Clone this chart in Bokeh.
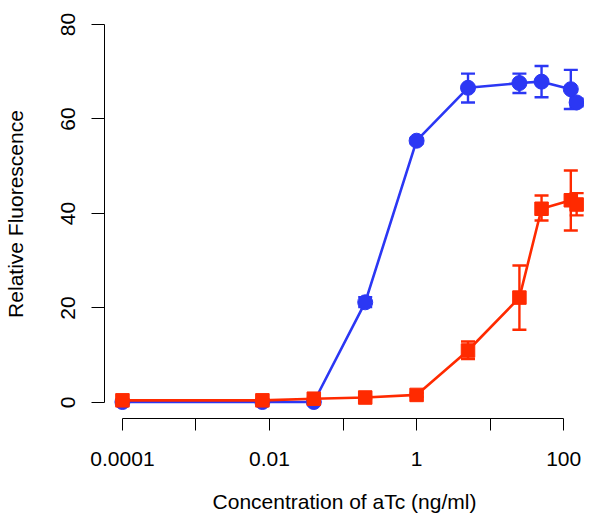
from bokeh.plotting import figure
from bokeh.models import Range1d, FixedTicker, ColumnDataSource
from bokeh.embed import file_html
from bokeh.resources import INLINE

# Data
conc = [0.0001, 0.008, 0.04, 0.2, 1, 5, 25, 50, 125, 150]

blue_y = [0.1, 0.1, 0.1, 21.2, 55.4, 66.6, 67.6, 67.9, 66.3, 63.5]
blue_hi = [0.3, 0.3, 0.3, 22.3, 56.0, 69.6, 69.6, 71.2, 70.4, 64.3]
blue_lo = [0.0, 0.0, 0.0, 20.2, 54.8, 63.5, 65.5, 64.6, 62.1, 62.7]

red_y = [0.45, 0.45, 0.8, 1.05, 1.6, 11.0, 22.2, 41.0, 42.8, 41.9]
red_hi = [0.6, 0.6, 1.0, 1.3, 2.0, 12.9, 29.0, 43.8, 49.1, 44.3]
red_lo = [0.3, 0.3, 0.6, 0.8, 1.2, 9.2, 15.4, 38.5, 36.4, 39.6]

x_ticks = [0.0001, 0.001, 0.01, 0.1, 1, 10, 100]
x_labels = {0.0001: "0.0001", 0.001: "", 0.01: "0.01", 0.1: "", 1: "1", 10: "", 100: "100"}
y_ticks = [0, 20, 40, 60, 80]

BLUE = "#2B37F4"
RED = "#FF2A00"
FONT = "Liberation Sans"

p = figure(width=584, height=515, x_axis_type="log",
           x_range=Range1d(10 ** -4.244, 10 ** 2.283),
           y_range=Range1d(-3.39, 83.17),
           output_backend="svg", toolbar_location=None,
           min_border_left=103, min_border_right=0,
           min_border_top=9, min_border_bottom=97)
p.outline_line_color = None
p.grid.grid_line_color = None
p.background_fill_color = "white"

# x axis
xa = p.xaxis[0]
xa.ticker = FixedTicker(ticks=x_ticks)
xa.major_label_overrides = x_labels
xa.bounds = (0.0001, 100)
xa.minor_tick_line_color = None
xa.major_tick_in = 0
xa.major_tick_out = 12
xa.major_tick_line_color = "black"
xa.axis_line_color = "black"
xa.major_label_text_font = FONT
xa.major_label_text_font_size = "21px"
xa.major_label_text_color = "black"
xa.major_label_standoff = 21
xa.axis_label = "Concentration of aTc (ng/ml)"
xa.axis_label_text_font = FONT
xa.axis_label_text_font_size = "21px"
xa.axis_label_text_font_style = "normal"
xa.axis_label_text_color = "black"
xa.axis_label_standoff = 21

# y axis
ya = p.yaxis[0]
ya.ticker = FixedTicker(ticks=y_ticks)
ya.bounds = (0, 80)
ya.minor_tick_line_color = None
ya.major_tick_in = 0
ya.major_tick_out = 13
ya.major_tick_line_color = "black"
ya.axis_line_color = "black"
ya.major_label_orientation = "vertical"
ya.major_label_text_font = FONT
ya.major_label_text_font_size = "21px"
ya.major_label_text_color = "black"
ya.major_label_standoff = 16
ya.axis_label = "Relative Fluorescence"
ya.axis_label_text_font = FONT
ya.axis_label_text_font_size = "21px"
ya.axis_label_text_font_style = "normal"
ya.axis_label_text_color = "black"
ya.axis_label_standoff = 32

blue = ColumnDataSource(dict(x=conc, y=blue_y, hi=blue_hi, lo=blue_lo))
red = ColumnDataSource(dict(x=conc, y=red_y, hi=red_hi, lo=red_lo))

for src, col, marker, size in ((blue, BLUE, "circle", 15), (red, RED, "square", 13.5)):
    p.line("x", "y", source=src, line_color=col, line_width=2.6)
    p.segment(x0="x", y0="lo", x1="x", y1="hi", source=src, line_color=col, line_width=2.4)
    p.scatter("x", "hi", source=src, marker="dash", size=14, line_color=col, line_width=2.4)
    p.scatter("x", "lo", source=src, marker="dash", size=14, line_color=col, line_width=2.4)
    p.scatter("x", "y", source=src, marker=marker, size=size, fill_color=col, line_color=col)

open("out.html", "w").write(file_html(p, INLINE))
